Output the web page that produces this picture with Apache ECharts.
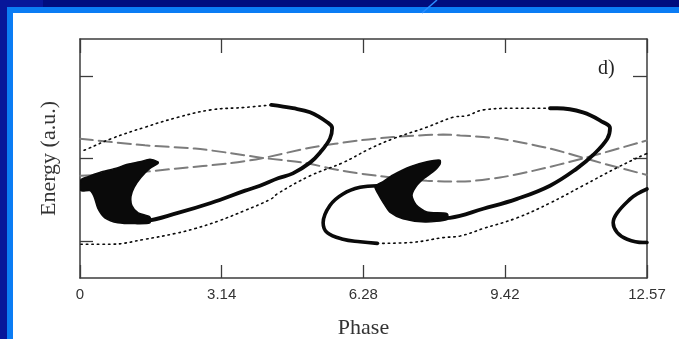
<!DOCTYPE html>
<html>
<head>
<meta charset="utf-8">
<script src="https://cdn.jsdelivr.net/npm/echarts@6/dist/echarts.min.js"></script>
<style>
  html, body { margin: 0; padding: 0; background: #05138f; overflow: hidden; }
  #chart { width: 679px; height: 339px; }
</style>
</head>
<body>
<div id="chart"></div>
<script>
// Axis ticks
const phaseTicks = [0, 3.14, 6.28, 9.42, 12.57];
const energyTicks = [1, 2, 3];

// Gray dashed reference curves [phase, energy]
const dashedFalling = [
  [0, 2.24], [1.44, 2.16], [2.55, 2.12], [3.28, 2.07], [4.01, 2.01], [4.94, 1.95],
  [5.83, 1.85], [6.59, 1.79], [7.69, 1.73], [8.43, 1.72], [9.31, 1.77], [10.04, 1.85],
  [11.15, 2.00], [12.57, 2.22]
];
const dashedRising = [
  [0, 1.79], [1.06, 1.82], [2.17, 1.88], [3.28, 1.94], [4.01, 2.00], [5.10, 2.13],
  [6.21, 2.22], [6.94, 2.26], [8.05, 2.29], [8.43, 2.28], [9.31, 2.24], [10.42, 2.12],
  [11.53, 1.95], [12.57, 1.80]
];

// Outer trajectory, first bucket: sparse upper branch
const outerUpper1 = [
  [0.09, 2.10], [0.18, 2.12], [0.69, 2.24], [1.44, 2.38], [2.17, 2.50],
  [2.90, 2.59], [3.66, 2.62], [4.24, 2.65]
];
// Dense turning branch of the first bucket
const turn1 = [
  [4.24, 2.65], [4.72, 2.61], [5.10, 2.56], [5.48, 2.44], [5.59, 2.37], [5.54, 2.24],
  [5.32, 2.07], [5.10, 1.95], [4.72, 1.82], [4.39, 1.76], [3.99, 1.67], [3.66, 1.61],
  [2.90, 1.46], [2.17, 1.34], [1.44, 1.24], [1.06, 1.23]
];
// Trapped core of the first bucket (outline)
const core1 = [
  [1.73, 1.96], [1.55, 1.99], [1.33, 1.96], [1.06, 1.93], [0.78, 1.88], [0.44, 1.83],
  [0.18, 1.78], [0.02, 1.74], [0.02, 1.61], [0.22, 1.61], [0.31, 1.54], [0.40, 1.39],
  [0.55, 1.28], [0.84, 1.22], [1.22, 1.21], [1.55, 1.22], [1.55, 1.29], [1.29, 1.34],
  [1.15, 1.43], [1.13, 1.54], [1.20, 1.65], [1.35, 1.77], [1.55, 1.88], [1.73, 1.94]
];
// Sparse branch running from under bucket 1 to the top of bucket 2
const outerLink12 = [
  [0.02, 0.96], [0.69, 0.96], [1.44, 1.02], [2.11, 1.09], [2.55, 1.15], [3.06, 1.24],
  [3.66, 1.37], [4.24, 1.51], [4.37, 1.57], [5.10, 1.79], [5.83, 1.95], [6.43, 2.12],
  [6.94, 2.24], [7.69, 2.38], [8.27, 2.50], [8.58, 2.52], [8.94, 2.59], [9.69, 2.61],
  [10.42, 2.61]
];
// Dense turning branch of the second bucket
const turn2 = [
  [10.42, 2.61], [10.58, 2.61], [11.15, 2.56], [11.60, 2.44], [11.75, 2.37], [11.69, 2.24],
  [11.37, 2.04], [11.02, 1.88], [10.42, 1.67], [9.69, 1.51], [8.94, 1.39], [8.20, 1.28],
  [7.83, 1.27]
];
// Trapped core of the second bucket (outline)
const core2 = [
  [7.98, 1.98], [7.69, 1.96], [7.32, 1.90], [6.94, 1.80], [6.72, 1.72], [6.54, 1.66],
  [6.61, 1.57], [6.74, 1.45], [6.87, 1.35], [7.16, 1.27], [7.65, 1.23], [8.14, 1.26],
  [8.14, 1.33], [7.69, 1.35], [7.45, 1.44], [7.36, 1.55], [7.45, 1.66], [7.63, 1.76],
  [7.83, 1.84], [7.98, 1.93]
];
// Dense left arc of the second bucket
const arc2 = [
  [6.59, 1.67], [6.21, 1.65], [5.83, 1.57], [5.54, 1.43], [5.39, 1.22], [5.48, 1.10],
  [5.83, 1.02], [6.21, 0.99], [6.59, 0.97]
];
// Sparse branch running from under bucket 2 toward bucket 3
const outerLink23 = [
  [6.59, 0.97], [7.32, 0.98], [8.05, 1.04], [8.43, 1.06], [8.94, 1.15], [9.69, 1.28],
  [10.42, 1.46], [11.15, 1.67], [11.91, 1.89], [12.48, 2.04], [12.57, 2.06]
];
// Dense left arc of the third bucket
const arc3 = [
  [12.57, 1.63], [12.35, 1.57], [12.20, 1.51], [11.91, 1.34], [11.82, 1.22],
  [11.91, 1.10], [12.13, 1.02], [12.48, 0.98], [12.57, 0.98]
];

const INK = '#0a0a0a';
const FRAME = '#3c3c3c';

function curve(data, width, type, color, smooth) {
  return {
    type: 'line', data: data, symbol: 'none', smooth: smooth, silent: true,
    animation: false, z: 3,
    lineStyle: { width: width, type: type, color: color, cap: 'round' }
  };
}

function core(points) {
  return {
    type: 'custom', data: points, clip: true, silent: true, animation: false, z: 4,
    renderItem: function (params, api) {
      if (params.dataIndex !== 0) return null;
      return {
        type: 'polygon',
        shape: { points: points.map(function (p) { return api.coord(p); }), smooth: 0.25 },
        style: { fill: INK, stroke: INK, lineWidth: 1.5 }
      };
    }
  };
}

const tickStyle = { color: FRAME, width: 1.3 };
const axisLineStyle = { show: true, onZero: false, lineStyle: { color: FRAME, width: 1.5 } };

const chart = echarts.init(document.getElementById('chart'), null, { renderer: 'canvas' });
chart.setOption({
  animation: false,
  backgroundColor: 'transparent',
  graphic: [
    { type: 'rect', z: -10, silent: true, shape: { x: 0, y: 0, width: 679, height: 339 }, style: { fill: '#07169a' } },
    { type: 'rect', z: -10, silent: true, shape: { x: 43, y: 0, width: 636, height: 7 }, style: { fill: '#000c7e' } },
    { type: 'rect', z: -10, silent: true, shape: { x: 7, y: 7, width: 672, height: 6 }, style: { fill: '#0b7cf4' } },
    { type: 'rect', z: -10, silent: true, shape: { x: 7, y: 7, width: 6, height: 332 }, style: { fill: '#0b7cf4' } },
    { type: 'rect', z: -10, silent: true, shape: { x: 13, y: 13, width: 666, height: 326 }, style: { fill: '#ffffff' } },
    { type: 'line', z: -9, silent: true, shape: { x1: 437, y1: 0, x2: 422, y2: 13 }, style: { stroke: '#2a8cff', lineWidth: 1.5 } },
    { type: 'text', z: 10, silent: true, left: 598, top: 59,
      style: { text: 'd)', font: '20px "Liberation Serif", serif', fill: '#222' } }
  ],
  grid: { left: 80, right: 32, top: 39, bottom: 61, containLabel: false, outerBoundsMode: 'none' },
  xAxis: [
    {
      type: 'value', min: 0, max: 12.57, position: 'bottom',
      axisLine: axisLineStyle,
      axisTick: { show: true, inside: true, length: 13, customValues: phaseTicks, lineStyle: tickStyle },
      axisLabel: {
        show: true, customValues: phaseTicks, margin: 9,
        color: '#333', fontSize: 15, fontFamily: '"Liberation Sans", sans-serif',
        formatter: function (v) { return String(v); }
      },
      splitLine: { show: false },
      name: 'Phase', nameLocation: 'middle', nameGap: 39,
      nameTextStyle: { color: '#333', fontSize: 22, fontFamily: '"Liberation Serif", serif' }
    },
    {
      type: 'value', min: 0, max: 12.57, position: 'top',
      axisLine: axisLineStyle,
      axisTick: { show: true, inside: true, length: 14, customValues: phaseTicks, lineStyle: tickStyle },
      axisLabel: { show: false },
      splitLine: { show: false }
    }
  ],
  yAxis: [
    {
      type: 'value', min: 0.55, max: 3.45, position: 'left',
      axisLine: axisLineStyle,
      axisTick: { show: true, inside: true, length: 13, customValues: energyTicks, lineStyle: tickStyle },
      axisLabel: { show: false },
      splitLine: { show: false },
      name: 'Energy (a.u.)', nameLocation: 'middle', nameGap: 20, nameRotate: 90,
      nameTextStyle: { color: '#333', fontSize: 22, fontFamily: '"Liberation Serif", serif' }
    },
    {
      type: 'value', min: 0.55, max: 3.45, position: 'right',
      axisLine: axisLineStyle,
      axisTick: { show: true, inside: true, length: 14, customValues: energyTicks, lineStyle: tickStyle },
      axisLabel: { show: false },
      splitLine: { show: false }
    }
  ],
  series: [
    curve(dashedFalling, 2, [13, 6], '#7c7c7c', 0.3),
    curve(dashedRising, 2, [13, 6], '#7c7c7c', 0.3),
    curve(outerUpper1, 1.6, [1.5, 4], INK, 0.4),
    curve(outerLink12, 1.6, [1.5, 4], INK, 0.4),
    curve(outerLink23, 1.6, [1.5, 4], INK, 0.4),
    curve(turn1, 3.8, 'solid', INK, 0.4),
    curve(turn2, 3.8, 'solid', INK, 0.4),
    curve(arc2, 3.6, 'solid', INK, 0.4),
    curve(arc3, 3.6, 'solid', INK, 0.4),
    core(core1),
    core(core2)
  ]
});
</script>
</body>
</html>
